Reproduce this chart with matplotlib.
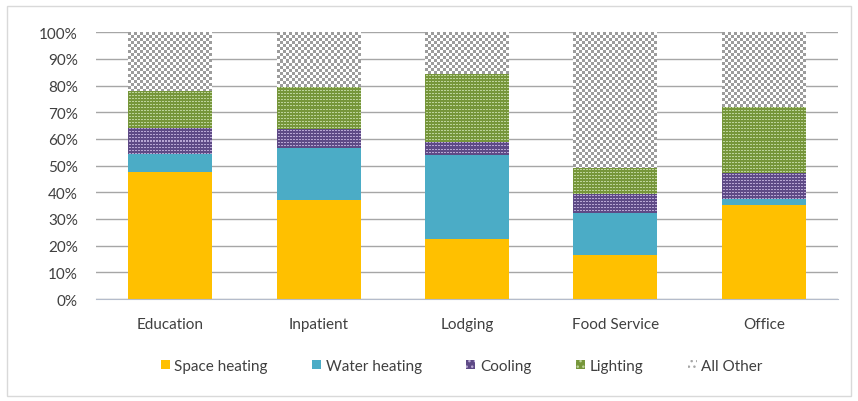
import numpy as np
import matplotlib.pyplot as plt
from matplotlib.patches import Patch, Rectangle
from matplotlib.ticker import PercentFormatter

plt.rcParams['font.family'] = ['Lato', 'DejaVu Sans']

categories = ['Education', 'Inpatient', 'Lodging', 'Food Service', 'Office']
space_heating = [47.7, 37.1, 22.5, 16.6, 35.2]
water_heating = [6.7, 19.5, 31.5, 15.8, 2.3]
cooling = [9.8, 7.1, 5.0, 7.1, 9.6]
lighting = [13.8, 15.9, 25.3, 9.6, 24.9]
all_other = [22.0, 20.4, 15.7, 50.9, 28.0]

series = [
    ('Space heating', space_heating, '#FFC000', None),
    ('Water heating', water_heating, '#4BACC6', None),
    ('Cooling', cooling, ('#5E4A86', '#B7A6D3'), 'dots'),
    ('Lighting', lighting, ('#76963A', '#BCD39A'), 'dots'),
    ('All Other', all_other, ('#FFFFFF', '#9C9C9C'), 'checker'),
]


def hex_rgb(h):
    h = h.lstrip('#')
    return np.array([int(h[i:i + 2], 16) / 255 for i in (0, 2, 4)])


def texture(w_px, h_px, base, fg, kind):
    i, j = np.mgrid[0:h_px, 0:w_px]
    if kind == 'checker':
        mask = ((i // 3 + j // 3) % 2) == 0
    else:
        mask = ((i % 3) == 1) & ((j % 3) == 1) | ((i % 3) == 1) & ((j % 3) == 2)
    img = np.empty((h_px, w_px, 3))
    img[:] = hex_rgb(base)
    img[mask] = hex_rgb(fg)
    return img


fig = plt.figure(figsize=(8.58, 4.02), dpi=100)
ax = fig.add_axes([96 / 858, 1 - 300 / 402, 742 / 858, 266.7 / 402])
fig.patches.append(Rectangle((7 / 858, 5 / 402), 844 / 858, 390 / 402,
                             transform=fig.transFigure, fill=False,
                             edgecolor='#D9D9D9', linewidth=1))

x = np.arange(len(categories))
bottom = np.zeros(len(categories))
handles = []
ax.set_xlim(-0.5, len(categories) - 0.5)
ax.set_ylim(0, 100)
fig.canvas.draw()

for name, vals, color, kind in series:
    vals = np.array(vals)
    if kind is None:
        bars = ax.bar(x, vals, 0.566, bottom=bottom, color=color, zorder=2)
        handles.append(Patch(facecolor=color, label=name))
    else:
        base, fg = color
        bars = ax.bar(x, vals, 0.566, bottom=bottom, color=base, zorder=2,
                      linewidth=0)
        for b in bars:
            x0, y0 = b.get_x(), b.get_y()
            x1, y1 = x0 + b.get_width(), y0 + b.get_height()
            p0 = ax.transData.transform((x0, y0))
            p1 = ax.transData.transform((x1, y1))
            w_px = max(int(round(p1[0] - p0[0])), 1)
            h_px = max(int(round(p1[1] - p0[1])), 1)
            ax.imshow(texture(w_px, h_px, base, fg, kind),
                      extent=(x0, x1, y0, y1), aspect='auto',
                      interpolation='nearest', zorder=3)
        if kind == 'checker':
            handles.append(Patch(facecolor='#FFFFFF', edgecolor='#A6A6A6',
                                 hatch='...', linewidth=0, label=name))
        else:
            handles.append(Patch(facecolor=base, edgecolor=fg, hatch='...',
                                 linewidth=0, label=name))
    bottom += vals

ax.set_xlim(-0.5, len(categories) - 0.5)
ax.set_ylim(0, 100)
ax.set_yticks(np.arange(0, 101, 10))
ax.yaxis.set_major_formatter(PercentFormatter(decimals=0))
ax.set_xticks(x)
ax.set_xticklabels(categories)
ax.grid(axis='y', color='#A6A6A6', linewidth=1, zorder=0)
ax.set_axisbelow(True)
for s in ['top', 'right', 'left']:
    ax.spines[s].set_visible(False)
ax.spines['bottom'].set_color('#B4BCCB')
ax.tick_params(axis='both', length=0, labelsize=11, colors='#404040')
ax.tick_params(axis='y', pad=13)
ax.tick_params(axis='x', pad=13)

fig.legend(handles=handles, loc='center', bbox_to_anchor=(0.538, 1 - 367 / 402),
           ncol=5, frameon=False, fontsize=11, handlelength=0.6,
           handleheight=0.6, handletextpad=0.3, columnspacing=2.9,
           labelcolor='#404040')

fig.savefig('out.png', dpi=100)
